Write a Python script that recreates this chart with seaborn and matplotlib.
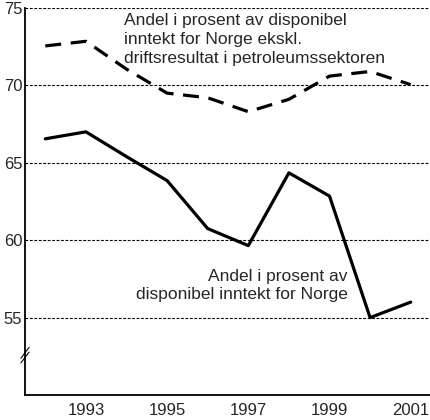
import matplotlib
matplotlib.use("Agg")
import matplotlib.pyplot as plt
import pandas as pd
import seaborn as sns

# Data
years = [1992, 1993, 1994, 1995, 1996, 1997, 1998, 1999, 2000, 2001]
andel_norge = [66.55, 67.0, 65.4, 63.85, 60.75, 59.65, 64.35, 62.85, 55.0, 56.0]
andel_ekskl_petro = [72.55, 72.85, 71.05, 69.5, 69.2, 68.3, 69.1, 70.6, 70.9, 70.05]

y_ticks = [55, 60, 65, 70, 75]
x_label_years = [1993, 1995, 1997, 1999, 2001]

label_norge = "Andel i prosent av\ndisponibel inntekt for Norge"
label_ekskl = "Andel i prosent av disponibel\ninntekt for Norge ekskl.\ndriftsresultat i petroleumssektoren"

df = pd.DataFrame({"year": years, "norge": andel_norge, "ekskl": andel_ekskl_petro})

sns.set_theme(style="white")
plt.rcParams["font.family"] = ["Liberation Sans", "DejaVu Sans"]

fig = plt.figure(figsize=(4.31, 4.20), dpi=100)
ax = fig.add_axes([25 / 431, 25 / 420, 406 / 431, 387 / 420])

sns.lineplot(data=df, x="year", y="ekskl", ax=ax, color="black", linewidth=2.3)
ax.lines[-1].set_dashes([5, 3])
sns.lineplot(data=df, x="year", y="norge", ax=ax, color="black", linewidth=2.3)

ax.set_xlim(1991.5, 2001.5)
ax.set_ylim(50, 75)

# dotted gridlines
for y in y_ticks:
    ax.axhline(y, color="black", linewidth=0.8, linestyle=(0, (2.5, 1.5)), zorder=0)

ax.set_yticks(y_ticks)
ax.set_yticklabels([str(v) for v in y_ticks], fontsize=12)
ax.set_xticks(years)
ax.set_xticklabels([str(y) if y in x_label_years else "" for y in years], fontsize=12)
ax.tick_params(axis="x", direction="in", length=8, width=1.2, color="black", pad=6)
ax.tick_params(axis="y", length=0, pad=2)
ax.set_xlabel("")
ax.set_ylabel("")

for side in ["top", "right"]:
    ax.spines[side].set_visible(False)
for side in ["left", "bottom"]:
    ax.spines[side].set_color("black")
    ax.spines[side].set_linewidth(1.3)

# axis break mark
for dy in (-0.006, 0.006):
    ax.plot([-0.010, 0.010], [0.103 + dy - 0.014, 0.103 + dy + 0.014],
            transform=ax.transAxes, color="black", linewidth=0.8, clip_on=False)

ax.text(1993.93, 74.65, label_ekskl, fontsize=12.5, ha="left", va="top", linespacing=1.3)
ax.text(1999.45, 58.15, label_norge, fontsize=12.5, ha="right", va="top", linespacing=1.3)

fig.savefig("out.png", dpi=100)
